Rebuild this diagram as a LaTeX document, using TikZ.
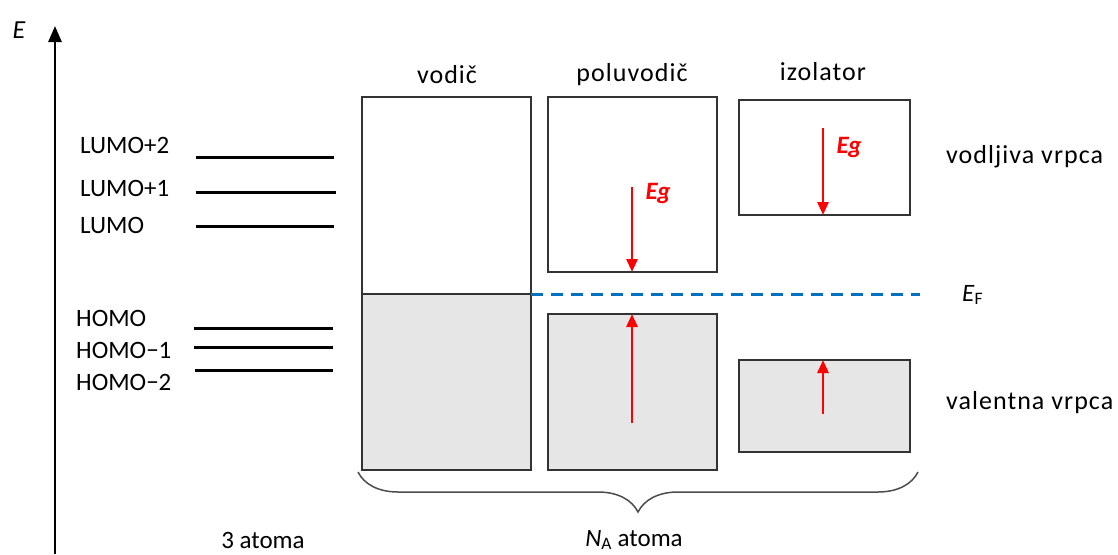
\documentclass[tikz,border=0pt]{standalone}
\usepackage{fontspec}
\setmainfont{Carlito}
\newfontfamily\widefont[LetterSpace=4]{Carlito}
\usetikzlibrary{arrows.meta,decorations.pathreplacing}
\definecolor{efblue}{RGB}{0,112,192}
\definecolor{bandgray}{RGB}{230,230,230}
\begin{document}
\begin{tikzpicture}[x=1pt,y=-1pt,
  lbl/.style={font=\fontsize{25}{30}\selectfont, inner sep=0pt},
  wlbl/.style={font=\fontsize{26}{30}\selectfont\widefont, inner sep=0pt},
  levelline/.style={line width=3pt},
  band/.style={draw=black!80, line width=1.5pt, inner sep=0pt, outer sep=0pt, anchor=north west},
  fullband/.style={band, fill=bandgray},
  egarrow/.style={draw=red, line width=2.8pt, -{Triangle[length=13pt,width=11pt]}},
  eglbl/.style={lbl, text=red, font=\fontsize{25}{30}\selectfont\bfseries\itshape},
]
\useasboundingbox (0,0) rectangle (1118,554);

% energy axis
\coordinate (axb) at (55,554);
\coordinate (axt) at (55,26);
\draw[line width=2.8pt, -{Triangle[length=16pt,width=13pt]}] (axb) -- (axt);
\node[lbl, font=\fontsize{26}{30}\selectfont\itshape] (E) at (19,30) {E};

% molecular levels
\draw[levelline] (196,157) -- (334,157);
\draw[levelline] (196,192) -- (336,192);
\draw[levelline] (196,226) -- (334,226);
\draw[levelline] (194,328) -- (333,328);
\draw[levelline] (194,347) -- (333,347);
\draw[levelline] (195,370) -- (333,370);
\node[lbl, anchor=west] (l2) at (80,145) {LUMO+2};
\node[lbl, anchor=west] (l1) at (80,188) {LUMO+1};
\node[lbl, anchor=west] (l0) at (80,225) {LUMO};
\node[lbl, anchor=west] (h0) at (76,318) {HOMO};
\node[lbl, anchor=west] (h1) at (76,350) {HOMO−1};
\node[lbl, anchor=west] (h2) at (76,382) {HOMO−2};

% column titles
\node[wlbl] (tv) at (447,75) {vodič};
\node[wlbl] (tp) at (632,75) {poluvodič};
\node[wlbl] (ti) at (823,72) {izolator};

% vodič
\fill[bandgray] (362,294) rectangle (531,470);
\node[band, minimum width=169pt, minimum height=373pt] (vod) at (362,97) {};
\draw[black!80, line width=1.5pt] (362,294) coordinate (vl) -- (531,294) coordinate (vr);

% poluvodič
\node[band, minimum width=169pt, minimum height=175pt] (pc) at (548,97) {};
\node[fullband, minimum width=169pt, minimum height=156pt] (pv) at (548,314) {};

% izolator
\node[band, minimum width=171pt, minimum height=115pt] (ic) at (739,100) {};
\node[fullband, minimum width=171pt, minimum height=92pt] (iv) at (739,360) {};

% Fermi level
\coordinate (efend) at (920,294);
\draw[efblue, line width=3pt, dash pattern=on 12pt off 8pt] (vr) -- (efend);
\node[lbl, anchor=west] (ef) at (962,295) {\textit{E}\textsubscript{F}};

% gap arrows
\coordinate (pa1) at (632,187);
\coordinate (pa2) at (632,423);
\coordinate (ia1) at (823,128);
\coordinate (ia2) at (823,414);
\draw[egarrow] (pa1) -- (pa1 |- pc.south);
\draw[egarrow] (pa2) -- (pa2 |- pv.north);
\draw[egarrow] (ia1) -- (ia1 |- ic.south);
\draw[egarrow] (ia2) -- (ia2 |- iv.north);
\node[eglbl] (eg1) at (658,193) {Eg};
\node[eglbl] (eg2) at (849,147) {Eg};

% band labels
\node[wlbl, anchor=west] (vv) at (946,157) {vodljiva vrpca};
\node[wlbl, anchor=west] (va) at (946,403) {valentna vrpca};

% brace
\coordinate (bl) at (358,472);
\coordinate (br) at (918,472);
\draw[decorate, decoration={brace, amplitude=40pt, mirror}, line width=1.5pt, black!70] (bl) -- (br);

\node[lbl] (a3) at (263,540) {3 atoma};
\node[lbl] (na) at (634,540) {\textit{N}\textsubscript{A} atoma};
\end{tikzpicture}
\end{document}
